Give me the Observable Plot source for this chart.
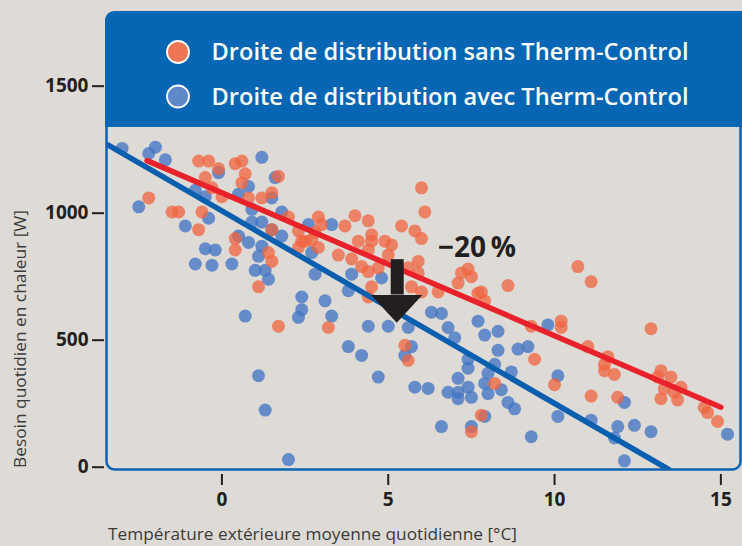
<!DOCTYPE html>
<html>
<head>
<meta charset="utf-8">
<script src="https://cdn.jsdelivr.net/npm/d3@7"></script>
<script src="https://cdn.jsdelivr.net/npm/@observablehq/plot@0.6"></script>
<style>
  html, body { margin: 0; padding: 0; background: #dedad6; }
  #wrap { position: relative; width: 742px; height: 546px; overflow: hidden; background: #dedad6; }
  #wrap > svg { position: absolute; left: 0; top: 0; }
  #overlay { pointer-events: none; }
</style>
</head>
<body>
<div id="wrap"></div>
<script>
// ---- Data ----
const xTicks = [0, 5, 10, 15];
const yTicks = [0, 500, 1000, 1500];

const seriesNames = ["Droite de distribution sans Therm-Control", "Droite de distribution avec Therm-Control"];
const xLabel = "Température extérieure moyenne quotidienne [°C]";
const yLabel = "Besoin quotidien en chaleur [W]";
const reductionLabel = "−20\u2009%";

// Sans Therm-Control (orange) : température [°C], besoin [W]
const redT = [-2.2,-1.5,-1.3,-0.7,-0.4,-0.6,-0.7,-0.5,-0.3,-0.1,0.0,0.4,0.6,0.7,0.6,0.8,1.2,0.4,0.4,1.4,1.5,1.1,1.7,1.5,2.0,1.5,2.3,2.4,2.3,2.9,3.0,2.8,2.7,2.9,3.7,4.0,4.4,4.1,4.5,4.5,4.9,5.1,3.5,3.9,4.4,5.0,4.2,4.4,4.7,4.5,5.4,5.8,6.0,6.1,6.0,5.9,5.6,5.9,5.7,6.0,6.5,7.2,7.4,7.5,7.1,7.7,7.8,7.9,8.6,9.3,10.2,10.2,10.7,11.1,12.9,9.4,10.0,11.0,11.6,11.5,11.5,11.8,11.1,11.9,13.2,13.1,13.5,13.8,13.3,13.6,13.2,13.7,14.5,14.6,14.9,8.2,7.8,7.5,5.5,5.6,3.2,1.7,4.4,2.5];
const redW = [1060,1005,1005,1205,1205,1005,935,1140,1100,1175,1065,1195,1205,1155,1120,1060,1060,900,855,845,810,710,1145,1080,985,935,930,890,865,985,955,925,895,865,950,990,970,890,915,890,890,875,835,820,855,835,790,770,785,710,950,930,1100,1005,900,810,785,765,710,690,690,765,780,750,725,685,690,655,715,555,575,550,790,730,545,425,325,475,435,405,380,365,280,275,380,355,355,315,310,295,270,265,235,215,180,330,205,140,480,420,550,555,670,890];

// Avec Therm-Control (bleu)
const blueT = [-3.0,-2.0,-2.2,-1.7,1.2,-0.1,0.8,0.5,-0.8,-0.5,-2.5,-0.4,-1.1,0.9,0.9,1.2,0.5,0.8,1.2,-0.5,-0.2,-0.8,-0.3,0.3,1.1,1.0,1.3,1.4,1.6,1.5,1.8,1.5,1.8,2.6,3.3,2.8,3.9,4.8,3.8,3.1,2.4,2.4,2.3,3.3,0.7,2.7,1.1,1.3,2.0,3.8,4.2,4.7,4.4,5.0,5.6,5.7,5.5,5.8,6.2,6.6,6.3,6.6,6.8,7.0,7.7,7.9,8.3,8.3,8.9,9.2,9.8,7.4,7.4,8.2,8.0,8.7,7.1,7.4,7.9,8.4,7.1,6.8,7.1,7.5,8.0,8.6,8.8,7.9,7.5,9.3,10.1,10.1,11.1,12.1,11.9,12.4,12.9,11.8,12.1,15.2];
const blueW = [1255,1260,1235,1210,1220,1160,1105,1075,1090,1065,1025,980,950,1015,965,965,910,885,870,860,855,800,795,800,830,775,775,740,1140,1060,1005,935,910,955,955,760,760,745,695,655,670,620,590,595,595,845,360,225,30,475,440,355,555,555,550,475,440,315,310,160,610,605,550,510,575,520,535,460,465,475,560,425,390,405,370,375,350,315,330,305,295,295,270,275,290,255,230,200,160,120,360,200,185,255,160,165,140,115,25,130];

// Droites de distribution (extrémités)
const redLineT = [-2.25, 15.0];
const redLineW = [1207, 236];
const blueLineT = [-3.43, 13.43];
const blueLineW = [1269, -9];

// Flèche « −20 % »
const arrowT = 5.27;
const arrowTopW = 817;
const arrowBaseW = 676;
const arrowTipW = 567;
const arrowHalfWidthT = 0.77;
const labelT = 7.67;
const labelW = 861;

// ---- Build tables ----
const red = redT.map((t, i) => ({t, w: redW[i]}));
const blue = blueT.map((t, i) => ({t, w: blueW[i]}));
const redLine = redLineT.map((t, i) => ({t, w: redLineW[i]}));
const blueLine = blueLineT.map((t, i) => ({t, w: blueLineW[i]}));
const arrowHead = [
  {t: arrowT - arrowHalfWidthT, y1: arrowBaseW, y2: arrowBaseW},
  {t: arrowT, y1: arrowBaseW, y2: arrowTipW},
  {t: arrowT + arrowHalfWidthT, y1: arrowBaseW, y2: arrowBaseW}
];

const dark = "#231f20";
const chart = Plot.plot({
  width: 742,
  height: 546,
  marginLeft: 106,
  marginRight: 2,
  marginTop: 12,
  marginBottom: 77,
  x: {domain: [-3.47, 15.59]},
  y: {domain: [-9, 1790]},
  style: {background: "transparent", fontFamily: "'Open Sans', sans-serif", fontSize: "19px", fontWeight: 700, color: dark},
  marks: [
    Plot.axisY({ticks: yTicks, tickSize: 12, dx: -2, tickPadding: 4, strokeWidth: 2, label: null, tickFormat: d3.format("d"), color: dark}),
    Plot.axisX({ticks: xTicks, tickSize: 11, dy: 5, tickPadding: 7, strokeWidth: 2, label: null, tickFormat: d3.format("d"), color: dark}),
    Plot.dot(blue, {x: "t", y: "w", r: 6.5, fill: "#4276c4", fillOpacity: 0.78, stroke: "none"}),
    Plot.dot(red, {x: "t", y: "w", r: 6.5, fill: "#f0643f", fillOpacity: 0.75, stroke: "none"}),
    Plot.line(redLine, {x: "t", y: "w", stroke: "#e8212a", strokeWidth: 5.5}),
    Plot.line(blueLine, {x: "t", y: "w", stroke: "#0a5fae", strokeWidth: 5.5, clip: true}),
    Plot.ruleX([arrowT], {y1: arrowBaseW + 2, y2: arrowTopW, stroke: dark, strokeWidth: 13}),
    Plot.areaY(arrowHead, {x: "t", y1: "y1", y2: "y2", fill: dark, curve: "linear"}),
    Plot.text([reductionLabel], {x: () => labelT, y: () => labelW, text: d => d, fontSize: 28, fontWeight: 700, fill: dark, textAnchor: "middle", lineAnchor: "middle"}),
    Plot.frame({stroke: "#0a63b3", strokeWidth: 2.5, rx: 8})
  ]
});
const wrap = document.getElementById("wrap");
wrap.appendChild(chart);

// ---- Overlay: legend header and axis titles ----
const ns = "http://www.w3.org/2000/svg";
const ov = document.createElementNS(ns, "svg");
ov.setAttribute("id", "overlay");
ov.setAttribute("width", 742);
ov.setAttribute("height", 546);
wrap.appendChild(ov);
function el(tag, attrs, text) {
  const e = document.createElementNS(ns, tag);
  for (const k in attrs) e.setAttribute(k, attrs[k]);
  if (text != null) e.textContent = text;
  ov.appendChild(e);
  return e;
}
el("path", {d: "M105,127 V22 Q105,11 116,11 H742 V127 Z", fill: "#0566b3"});
const legendColors = ["#ee7554", "#5f88c8"];
const legendY = [52, 96.5];
seriesNames.forEach((name, i) => {
  el("circle", {cx: 178, cy: legendY[i], r: 11, fill: legendColors[i], stroke: "#ffffff", "stroke-width": 1.8});
  el("text", {x: 211.5, y: legendY[i] + 8.3, fill: "#ffffff", "font-family": "'Open Sans', sans-serif", "font-size": 23, "font-weight": 600, textLength: 477, lengthAdjust: "spacingAndGlyphs"}, name);
});
el("text", {x: 108, y: 540, fill: "#3a3a3a", "font-family": "'Open Sans', sans-serif", "font-size": 15.5, textLength: 409, lengthAdjust: "spacingAndGlyphs"}, xLabel);
el("text", {x: 0, y: 0, transform: "translate(25.5,468) rotate(-90)", fill: "#3a3a3a", "font-family": "'Open Sans', sans-serif", "font-size": 15.5, textLength: 258, lengthAdjust: "spacingAndGlyphs"}, yLabel);
</script>
</body>
</html>
